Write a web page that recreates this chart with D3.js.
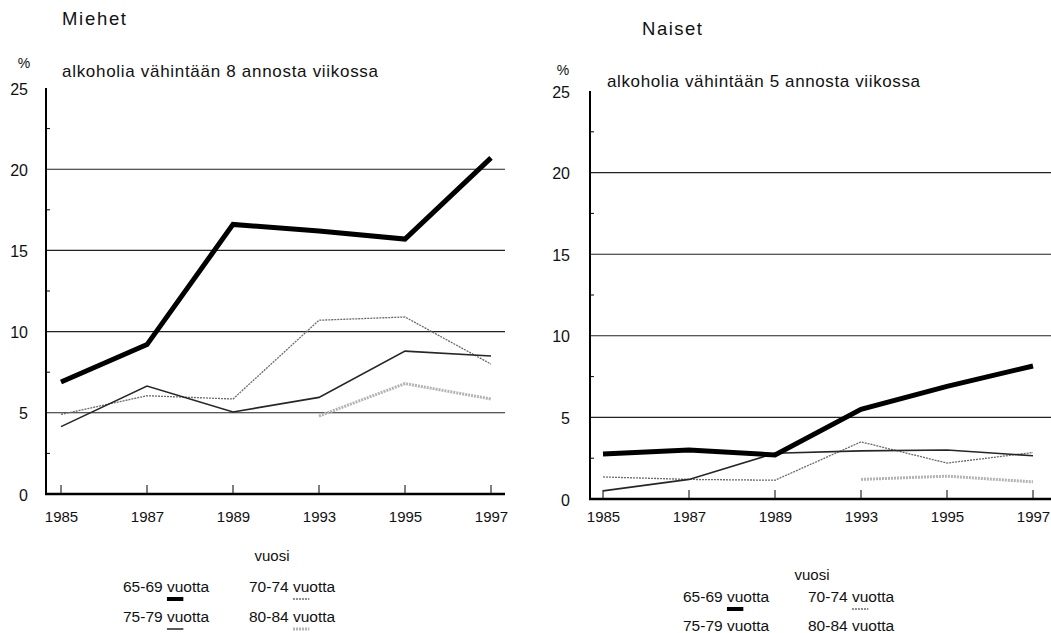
<!DOCTYPE html>
<html>
<head>
<meta charset="utf-8">
<script src="https://cdn.jsdelivr.net/npm/d3@7"></script>
<style>
  html, body { margin: 0; padding: 0; background: #fff; }
  svg { display: block; font-family: "Liberation Sans", Arial, Helvetica, sans-serif; }
</style>
</head>
<body>
<svg id="chart" width="1051" height="633"></svg>
<script>
// ---- data ----
const years = ["1985", "1987", "1989", "1993", "1995", "1997"];
const yTicks = [0, 5, 10, 15, 20, 25];
const gridValues = [5, 10, 15, 20];
const minorTicks = [2.5, 7.5, 12.5, 17.5, 22.5];
const seriesNames = ["65-69 vuotta", "70-74 vuotta", "75-79 vuotta", "80-84 vuotta"];
const panelTitles = ["Miehet", "Naiset"];
const panelSubtitles = ["alkoholia vähintään 8 annosta viikossa", "alkoholia vähintään 5 annosta viikossa"];
const xAxisTitle = "vuosi";
const unitLabel = "%";

const men6569 = [6.9, 9.2, 16.6, 16.2, 15.7, 20.7];
const men7074 = [4.9, 6.05, 5.85, 10.7, 10.9, 8.0];
const men7579 = [4.15, 6.65, 5.05, 5.95, 8.8, 8.5];
const men8084 = [null, null, null, 4.8, 6.8, 5.85];

const women6569 = [2.75, 3.0, 2.7, 5.5, 6.9, 8.15];
const women7074 = [1.35, 1.2, 1.15, 3.5, 2.2, 2.85];
const women7579 = [0.5, 1.2, 2.8, 2.95, 3.0, 2.65];
const women8084 = [null, null, null, 1.2, 1.4, 1.05];

// ---- styles ----
const lineStyles = [
  { stroke: "#000", width: 5, dash: null },
  { stroke: "#6a6a6a", width: 1.3, dash: "2,1" },
  { stroke: "#262626", width: 1.6, dash: null },
  { stroke: "#b4b4b4", width: 3, dash: "2,1" }
];

const layouts = [
  { axisX: 46, plotRight: 505, y0: 494, yTop: 88, xFirst: 61, xLast: 491,
    titleX: 62, titleY: 25, titleW: 64, subX: 62, subY: 77, subW: 316,
    pctX: 24, pctY: 68, tickLabelX: 28, xLabelY: 523, vuosiX: 272, vuosiY: 561,
    legX: [123, 249], legY: [592, 622], swatch: [true, true, true, true] },
  { axisX: 590, plotRight: 1051, y0: 499, yTop: 91, xFirst: 603, xLast: 1033,
    titleX: 642, titleY: 35, titleW: 60, subX: 607, subY: 87, subW: 313,
    pctX: 563, pctY: 75, tickLabelX: 570, xLabelY: 523, vuosiX: 812, vuosiY: 580,
    legX: [683, 808], legY: [602, 631], swatch: [true, true, false, true] }
];

const panelData = [
  [men6569, men7074, men7579, men8084],
  [women6569, women7074, women7579, women8084]
];

const svg = d3.select("#chart");

layouts.forEach((L, p) => {
  const g = svg.append("g");
  const x = d3.scalePoint().domain(years).range([L.xFirst, L.xLast]);
  const y = d3.scaleLinear().domain([0, 25]).range([L.y0, L.yTop]);

  // titles
  g.append("text").attr("x", L.titleX).attr("y", L.titleY)
    .attr("font-size", 18.5).attr("textLength", L.titleW).attr("fill", "#111")
    .text(panelTitles[p]);
  g.append("text").attr("x", L.subX).attr("y", L.subY)
    .attr("font-size", 17).attr("textLength", L.subW).attr("fill", "#111")
    .text(panelSubtitles[p]);
  g.append("text").attr("x", L.pctX).attr("y", L.pctY)
    .attr("font-size", 14).attr("text-anchor", "middle").attr("fill", "#111")
    .text(unitLabel);

  // grid lines
  g.selectAll(".grid").data(gridValues).enter().append("line")
    .attr("x1", L.axisX).attr("x2", L.plotRight)
    .attr("y1", d => y(d)).attr("y2", d => y(d))
    .attr("stroke", "#222").attr("stroke-width", 1.1);

  // y axis labels
  const yAxis = d3.axisLeft(y).tickValues(yTicks).tickSize(0).tickPadding(0);
  const ya = g.append("g").attr("transform", `translate(${L.tickLabelX},0)`).call(yAxis);
  ya.select(".domain").remove();
  ya.selectAll("text").attr("font-size", 16).attr("fill", "#111")
    .attr("font-family", "Liberation Sans, Arial, sans-serif").attr("dy", "0.38em");

  // axis line
  g.append("line").attr("x1", L.axisX).attr("x2", L.axisX)
    .attr("y1", L.yTop).attr("y2", L.y0 + 1)
    .attr("stroke", "#000").attr("stroke-width", 2);
  // minor ticks
  g.selectAll(".mt").data(minorTicks).enter().append("line")
    .attr("x1", L.axisX).attr("x2", L.axisX + 4)
    .attr("y1", d => y(d)).attr("y2", d => y(d))
    .attr("stroke", "#000").attr("stroke-width", 1);

  // x axis
  const xAxis = d3.axisBottom(x).tickSize(0).tickPadding(0);
  const xa = g.append("g").attr("transform", `translate(0,${L.xLabelY - 12})`).call(xAxis);
  xa.select(".domain").remove();
  xa.selectAll("text").attr("font-size", 15).attr("fill", "#111")
    .attr("font-family", "Liberation Sans, Arial, sans-serif").attr("dy", "0.71em");
  g.append("line").attr("x1", L.axisX - 1).attr("x2", L.plotRight)
    .attr("y1", L.y0).attr("y2", L.y0)
    .attr("stroke", "#000").attr("stroke-width", 2.5);
  g.selectAll(".xt").data(years).enter().append("line")
    .attr("x1", d => x(d)).attr("x2", d => x(d))
    .attr("y1", L.y0).attr("y2", L.y0 - 9)
    .attr("stroke", "#000").attr("stroke-width", 1);

  g.append("text").attr("x", L.vuosiX).attr("y", L.vuosiY)
    .attr("font-size", 15).attr("text-anchor", "middle").attr("fill", "#111")
    .text(xAxisTitle);

  // lines (draw thin first, thick last)
  const lineGen = d3.line()
    .defined(d => d.v !== null)
    .x(d => x(d.year)).y(d => y(d.v));
  [3, 1, 2, 0].forEach(si => {
    const st = lineStyles[si];
    const pts = years.map((yr, i) => ({ year: yr, v: panelData[p][si][i] }));
    g.append("path").datum(pts)
      .attr("d", lineGen)
      .attr("fill", "none")
      .attr("stroke", st.stroke)
      .attr("stroke-width", st.width)
      .attr("stroke-dasharray", st.dash)
      .attr("stroke-linejoin", "miter");
  });

  // legend
  seriesNames.forEach((name, si) => {
    const col = si % 2, row = Math.floor(si / 2);
    const tx = L.legX[col], ty = L.legY[row];
    const t = g.append("text").attr("x", tx).attr("y", ty)
      .attr("font-size", 15.5).attr("fill", "#111").text(name);
    if (L.swatch[si]) {
      const node = t.node();
      const start = node.getSubStringLength(0, 6);
      const w = node.getSubStringLength(6, 2);
      const st = lineStyles[si];
      g.append("line")
        .attr("x1", tx + start).attr("x2", tx + start + w)
        .attr("y1", ty + 7).attr("y2", ty + 7)
        .attr("stroke", st.stroke)
        .attr("stroke-width", si === 0 ? 4 : (si === 3 ? 3 : 1.5))
        .attr("stroke-dasharray", st.dash);
    }
  });
});
</script>
</body>
</html>
